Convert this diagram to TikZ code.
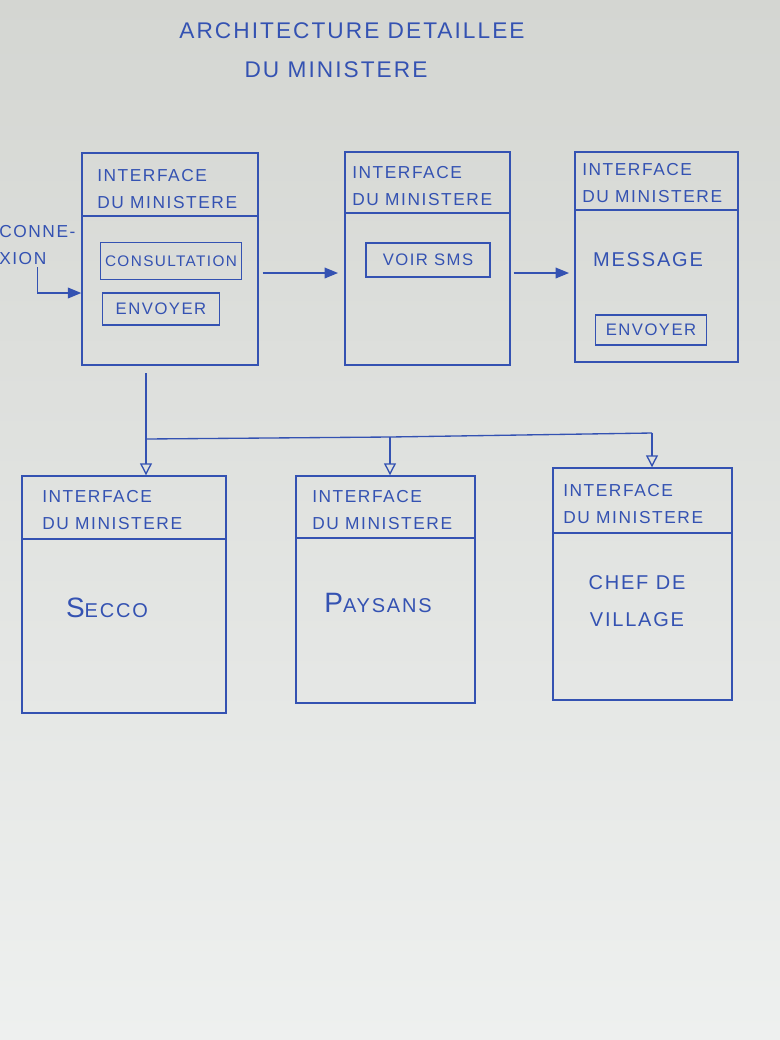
\documentclass[tikz,border=0pt]{standalone}
\usepackage{fontspec}
\setmainfont{Liberation Sans}
\newfontfamily\hand[LetterSpace=9]{Liberation Sans}
\usetikzlibrary{arrows.meta,fit}
\definecolor{pen}{RGB}{52,82,178}
\definecolor{papertop}{RGB}{212,214,210}
\definecolor{paperbot}{RGB}{238,240,239}
\tikzset{
  box/.style={draw=pen, line width=1.1pt, inner sep=0pt},
  inbox/.style={draw=pen, line width=1pt, inner sep=0pt, text=pen, font=\hand\fontsize{12.5}{14}\selectfont},
  lbl/.style={text=pen, font=\hand\fontsize{13}{20}\selectfont, inner sep=0pt},
  hdr/.style={lbl, align=left, anchor=west},
  wire/.style={draw=pen, line width=1pt},
  arrF/.style={wire, -{Triangle[length=10pt,width=8pt]}},
  arrO/.style={wire, -{Triangle[open,length=9pt,width=9pt]}},
}
\begin{document}
\begin{tikzpicture}[x=0.75pt,y=-0.75pt]
\useasboundingbox (0,0) rectangle (780,1040);
\shade[top color=papertop,bottom color=paperbot] (0,0) rectangle (780,1040);

% title
\node[lbl, font=\hand\fontsize{17}{20}\selectfont] (t1) at (352,31) {ARCHITECTURE DETAILLEE};
\node[lbl, font=\hand\fontsize{17}{20}\selectfont] (t2) at (336,70) {DU MINISTERE};

% top row boxes
\node[box, fit={(82,153) (258,365)}] (A) {};
\node[box, fit={(345,152) (510,365)}] (B) {};
\node[box, fit={(575,152) (738,362)}] (C) {};
\draw[wire] (A.west |- 0,216) -- (A.east |- 0,216);
\draw[wire] (B.west |- 0,213) -- (B.east |- 0,213);
\draw[wire] (C.west |- 0,210) -- (C.east |- 0,210);
\node[hdr] (Ah) at (97,189) {INTERFACE\\DU MINISTERE};
\node[hdr] (Bh) at (352,186) {INTERFACE\\DU MINISTERE};
\node[hdr] (Ch) at (582,183) {INTERFACE\\DU MINISTERE};

\node[inbox, font=\hand\fontsize{11.5}{14}\selectfont, minimum width=105.75pt, minimum height=27.75pt] (cons) at (171,261) {CONSULTATION};
\node[inbox, minimum width=87.75pt, minimum height=24pt] (envA) at (161,309) {ENVOYER};
\node[inbox, minimum width=93pt, minimum height=25.5pt] (voir) at (428,260) {VOIR SMS};
\node[lbl, font=\hand\fontsize{15}{20}\selectfont] (msg) at (648,260) {MESSAGE};
\node[inbox, minimum width=83.25pt, minimum height=22.5pt] (envC) at (651,330) {ENVOYER};

% connexion
\node[hdr] (conn) at (-1,245) {CONNE-\\XION};
\draw[arrF] ([yshift=-2pt]conn.south) |- (A.west |- 0,293);

% horizontal arrows
\draw[arrF] (A.east |- 0,273) ++(4,0) -- (338,273);
\draw[arrF] (B.east |- 0,273) ++(3,0) -- (569,273);

% bottom row boxes
\node[box, fit={(22,476) (226,713)}] (D) {};
\node[box, fit={(296,476) (475,703)}] (E) {};
\node[box, fit={(553,468) (732,700)}] (F) {};
\draw[wire] (D.west |- 0,539) -- (D.east |- 0,539);
\draw[wire] (E.west |- 0,538) -- (E.east |- 0,538);
\draw[wire] (F.west |- 0,533) -- (F.east |- 0,533);
\node[hdr] (Dh) at (42,510) {INTERFACE\\DU MINISTERE};
\node[hdr] (Eh) at (312,510) {INTERFACE\\DU MINISTERE};
\node[hdr] (Fh) at (563,504) {INTERFACE\\DU MINISTERE};

\node[lbl, font=\hand\fontsize{21}{22}\selectfont] (secco) at (107,608) {S\fontsize{15}{16}\selectfont ECCO};
\node[lbl, font=\hand\fontsize{21}{22}\selectfont] (pays) at (378,603) {P\fontsize{15}{16}\selectfont AYSANS};
\node[lbl, align=center, font=\hand\fontsize{15}{28}\selectfont] (chef) at (637,601) {CHEF DE\\VILLAGE};

% distribution connectors
\coordinate (a0) at (146,373);
\coordinate (j) at (146,439);
\coordinate (jE) at (390,437);
\coordinate (jF) at (652,433);
\draw[arrO] (a0) -- (a0 |- D.north);
\draw[wire] (j) -- (jE) -- (jF);
\draw[arrO] (jE) -- (jE |- E.north);
\draw[arrO] (jF) -- (jF |- F.north);
\end{tikzpicture}
\end{document}
